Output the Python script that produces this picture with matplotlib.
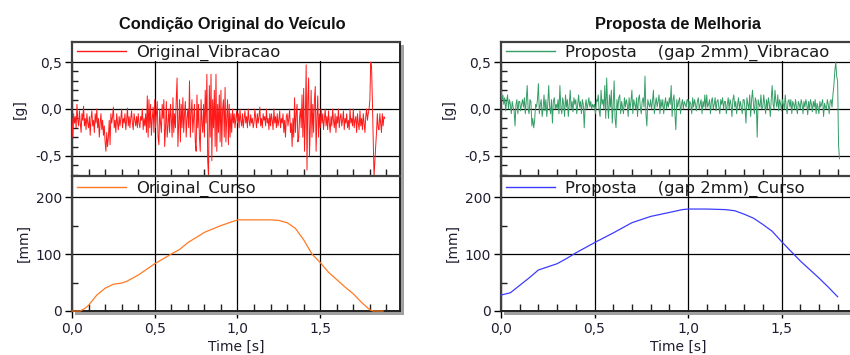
import numpy as np
import matplotlib
matplotlib.use("Agg")
import matplotlib.pyplot as plt
from matplotlib.ticker import MultipleLocator, FuncFormatter, FixedLocator
from matplotlib.patches import Rectangle
from matplotlib.transforms import blended_transform_factory

# ---------------- data ----------------
dt = 0.005
orig_vib = [
    -0.10, -0.30, -0.05, -0.15, -0.08, -0.20, 0.05, -0.12, -0.18, -0.02, -0.15, -0.25, -0.05, -0.12, 0.03, -0.18, -0.10, -0.22, -0.05, -0.15,
    -0.20, -0.08, -0.28, -0.10, -0.02, -0.18, -0.12, -0.25, -0.05, -0.15, 0.00, -0.20, -0.10, -0.30, -0.15, -0.05, -0.22, -0.12, -0.28, -0.18,
    -0.35, -0.45, -0.25, -0.40, -0.30, -0.12, -0.38, -0.05, -0.15, -0.08, 0.02, -0.20, -0.12, -0.25, -0.05, -0.15, -0.22, -0.08, -0.18, -0.10,
    0.00, -0.20, -0.10, -0.15, -0.05, -0.22, -0.12, 0.01, -0.18, -0.08, -0.20, -0.10, -0.02, -0.15, -0.22, -0.05, -0.12, -0.18, -0.08, -0.20,
    -0.05, -0.15, -0.20, -0.08, -0.12, 0.00, -0.22, -0.10, -0.18, -0.05, -0.25, 0.14, -0.30, 0.10, -0.20, 0.05, -0.28, -0.10, 0.02, -0.25,
    0.10, -0.20, -0.05, 0.08, -0.30, -0.38, 0.00, -0.15, -0.25, 0.05, -0.10, 0.10, -0.40, -0.20, 0.08, -0.30, -0.18, 0.00, -0.25, 0.05,
    -0.10, -0.30, 0.12, -0.25, -0.05, -0.20, 0.10, 0.33, -0.40, -0.15, 0.10, -0.35, 0.05, -0.20, 0.12, -0.25, -0.05, 0.08, -0.30, -0.10,
    0.00, -0.20, 0.30, -0.30, -0.05, 0.10, -0.25, -0.10, 0.05, -0.35, -0.45, 0.15, -0.20, 0.05, -0.30, -0.45, 0.10, -0.15, -0.25, 0.05,
    -0.30, 0.20, -0.15, 0.37, -0.55, -0.72, 0.25, -0.30, 0.37, -0.55, 0.10, -0.20, 0.20, -0.40, 0.37, -0.45, 0.05, -0.25, 0.15, -0.35,
    0.20, -0.40, 0.00, 0.10, -0.30, 0.23, -0.35, -0.10, 0.10, -0.38, 0.05, -0.30, -0.05, -0.25, 0.00, -0.15, -0.05, -0.20, -0.10, -0.02,
    -0.15, -0.05, -0.20, 0.00, -0.12, -0.18, -0.05, -0.20, -0.10, -0.02, -0.15, -0.08, -0.20, 0.00, -0.12, -0.18, -0.06, -0.15, -0.10, -0.20,
    -0.14, 0.00, -0.10, -0.20, -0.05, -0.15, -0.08, 0.02, -0.18, -0.10, -0.20, -0.05, -0.12, -0.08, -0.18, 0.00, -0.15, -0.10, -0.22, -0.05,
    -0.18, -0.05, -0.12, -0.22, 0.00, -0.15, -0.08, -0.20, -0.05, -0.18, -0.12, -0.02, -0.20, -0.10, -0.15, -0.05, -0.25, -0.12, -0.30, -0.08,
    -0.05, -0.18, -0.10, 0.00, -0.25, -0.15, -0.40, -0.10, -0.30, 0.12, -0.25, -0.05, 0.05, -0.35, -0.30, -0.10, 0.00, -0.20, 0.15, -0.30,
    0.22, -0.45, -0.10, 0.47, -0.65, 0.10, 0.33, -0.50, -0.20, 0.20, -0.30, 0.05, -0.25, 0.10, 0.24, -0.45, -0.10, 0.14, -0.30, -0.05,
    -0.20, 0.00, -0.15, -0.05, -0.22, -0.10, 0.00, -0.18, -0.08, -0.22, -0.02, -0.15, -0.25, -0.08, -0.18, 0.00, -0.12, -0.20, -0.05, -0.25,
    -0.08, -0.15, 0.00, -0.20, -0.10, -0.05, -0.18, -0.12, -0.02, -0.22, -0.10, -0.15, -0.05, -0.20, -0.12, -0.22, 0.00, -0.15, -0.10, -0.18,
    0.00, -0.20, -0.12, -0.08, -0.25, -0.05, -0.15, -0.22, -0.02, -0.18, -0.10, -0.22, -0.05, -0.15, -0.25, -0.08, 0.00, -0.12, -0.05, 0.00,
    0.10, 0.50, 0.45, 0.10, -0.30, -0.72, -0.55, -0.40, -0.25, -0.05, -0.20, -0.22, -0.05, -0.15, -0.25, -0.05, -0.18, -0.08, -0.10,
]
prop_vib = [
    0.20, 0.10, 0.15, 0.05, 0.12, -0.02, 0.08, 0.15, 0.00, 0.10, 0.05, -0.05, 0.08, 0.02, -0.02, -0.18, 0.05, 0.10, -0.05, 0.08,
    0.08, -0.02, 0.05, 0.10, 0.02, 0.12, -0.05, 0.08, 0.25, 0.00, -0.05, 0.10, 0.08, -0.18, -0.10, -0.20, -0.12, 0.05, 0.02, 0.10,
    0.27, -0.05, 0.05, 0.10, -0.08, 0.00, 0.15, -0.02, 0.10, -0.08, 0.05, 0.25, 0.02, -0.05, 0.10, -0.15, 0.08, 0.12, 0.00, 0.05,
    0.00, 0.10, -0.05, 0.25, 0.02, -0.05, 0.12, 0.05, -0.08, 0.15, 0.02, 0.10, -0.08, 0.05, 0.20, 0.00, 0.08, -0.03, 0.12, 0.05,
    0.10, -0.05, 0.05, 0.15, 0.02, 0.08, -0.05, 0.10, 0.05, -0.20, 0.02, 0.10, 0.00, 0.05, 0.12, 0.02, 0.08, 0.00, 0.05, 0.02,
    0.05, -0.05, 0.10, 0.08, 0.15, -0.02, -0.08, 0.20, 0.05, 0.10, 0.00, 0.25, -0.10, 0.33, 0.05, -0.10, 0.15, 0.02, 0.20, -0.15,
    0.05, 0.30, -0.10, -0.20, 0.10, 0.00, 0.12, 0.15, -0.05, 0.08, 0.02, -0.05, 0.12, 0.02, 0.10, 0.05, -0.08, 0.12, 0.00, 0.08,
    0.20, -0.05, 0.10, 0.05, 0.00, 0.12, -0.08, 0.10, 0.15, 0.02, -0.05, 0.08, 0.12, 0.02, 0.35, -0.05, -0.18, 0.10, 0.05, 0.02,
    0.10, 0.00, 0.08, 0.20, -0.05, 0.05, 0.12, 0.02, 0.08, 0.15, -0.05, 0.10, 0.02, 0.10, -0.05, 0.05, 0.12, 0.00, 0.08, 0.02,
    0.12, 0.05, 0.25, -0.08, 0.10, 0.15, -0.05, -0.22, 0.10, 0.02, 0.08, 0.12, -0.05, 0.05, 0.10, 0.00, 0.08, 0.05, 0.02, 0.10,
    0.10, 0.00, 0.08, 0.05, -0.05, 0.12, 0.02, 0.10, 0.05, -0.02, 0.08, 0.12, 0.00, 0.05, 0.10, -0.05, 0.08, 0.02, 0.15, 0.00,
    0.15, 0.02, 0.05, 0.10, -0.05, 0.08, 0.12, 0.00, 0.05, 0.12, -0.02, 0.08, 0.10, 0.02, -0.05, 0.10, 0.05, 0.12, 0.00, 0.08,
    0.08, -0.05, 0.05, 0.12, 0.00, 0.10, 0.05, -0.08, 0.10, 0.15, 0.02, 0.08, -0.05, 0.05, 0.12, 0.00, 0.08, 0.02, -0.05, 0.10,
    0.10, 0.00, -0.15, 0.12, 0.05, 0.00, 0.15, -0.08, 0.10, 0.20, 0.05, -0.05, 0.12, 0.08, -0.30, 0.10, 0.05, 0.02, 0.15, 0.00,
    0.02, 0.15, 0.05, -0.05, 0.10, 0.00, 0.12, 0.05, -0.08, 0.10, 0.25, 0.05, 0.00, 0.20, 0.08, 0.02, 0.15, -0.02, 0.10, 0.05,
    -0.02, 0.10, 0.05, 0.00, 0.15, 0.02, -0.05, 0.08, 0.10, 0.02, 0.10, -0.05, 0.08, 0.05, 0.00, 0.10, 0.02, -0.05, 0.08, 0.05,
    0.00, 0.10, 0.05, -0.05, 0.08, 0.02, 0.10, 0.05, -0.06, 0.08, 0.00, 0.10, 0.05, -0.03, 0.08, 0.02, 0.10, -0.05, 0.06, 0.02,
    -0.05, 0.08, 0.02, 0.06, 0.10, -0.08, 0.06, 0.02, 0.00, 0.10, 0.05, -0.05, 0.08, 0.10, 0.02, 0.15, 0.25, 0.40, 0.50, 0.35,
    0.30, -0.38, -0.53,
]
orig_curso_t = [0.00, 0.05, 0.08, 0.10, 0.15, 0.20, 0.25, 0.30, 0.33, 0.40, 0.50,
                0.60, 0.65, 0.70, 0.80, 0.90, 1.00, 1.10, 1.20, 1.25, 1.30, 1.35,
                1.40, 1.45, 1.50, 1.55, 1.60, 1.65, 1.70, 1.75, 1.80, 1.82, 1.88]
orig_curso = [0, 0, 5, 10, 28, 40, 47, 49, 52, 63, 83,
              100, 108, 120, 138, 150, 160, 160, 160, 159, 155, 145,
              125, 100, 85, 68, 55, 42, 30, 15, 2, 0, 0]
prop_curso_t = [0.00, 0.05, 0.10, 0.15, 0.20, 0.30, 0.35, 0.40, 0.50, 0.60, 0.70,
                0.80, 0.90, 0.97, 1.00, 1.10, 1.20, 1.25, 1.30, 1.35, 1.40, 1.45,
                1.50, 1.55, 1.60, 1.70, 1.75, 1.80]
prop_curso = [28, 32, 45, 58, 72, 83, 92, 102, 120, 137, 155,
              166, 173, 178, 179, 179, 178, 176, 170, 163, 152, 140,
              122, 105, 88, 58, 42, 25]

titles = ["Condição Original do Veículo", "Proposta de Melhoria"]
labels_vib = ["Original_Vibracao", "Proposta    (gap 2mm)_Vibracao"]
labels_curso = ["Original_Curso", "Proposta    (gap 2mm)_Curso"]
vib_colors = ["#ff1a1a", "#359e66"]
curso_colors = ["#ff7a22", "#3c3cff"]

# ---------------- figure ----------------
W, H = 850, 355
fig = plt.figure(figsize=(W / 100, H / 100), dpi=100)
fig.patch.set_facecolor("white")

def fx(px):
    return px / W

def fy(py):
    return 1 - py / H

comma = FuncFormatter(lambda v, p: f"{v:.1f}".replace(".", ","))
intfmt = FuncFormatter(lambda v, p: f"{v:.0f}")
TICKC = "#1e1e30"

panels = [
    dict(x0=72, w=328, xmax=1.982),
    dict(x0=501, w=354, xmax=1.893),
]

vib_data = [np.array(orig_vib), np.array(prop_vib)]
curso_data = [(np.array(orig_curso_t), np.array(orig_curso)),
              (np.array(prop_curso_t), np.array(prop_curso))]

def frame(ax, xmax):
    ax.set_xlim(0, xmax)
    ax.set_axisbelow(True)
    ax.grid(True, which="major", color="black", linewidth=0.9)
    ax.xaxis.set_major_locator(FixedLocator([0, 0.5, 1.0, 1.5]))
    ax.xaxis.set_minor_locator(MultipleLocator(0.1))
    for s in ["left", "top"]:
        ax.spines[s].set_color("#404040")
        ax.spines[s].set_linewidth(1.6)
    for s in ["right", "bottom"]:
        ax.spines[s].set_color("#202020")
        ax.spines[s].set_linewidth(1.4)

def ticks(ax):
    ax.yaxis.set_tick_params(which="major", direction="out", length=5, width=1,
                             labelsize=10, labelcolor=TICKC, pad=2)
    ax.yaxis.set_tick_params(which="minor", direction="in", length=4, width=1,
                             color="#202020")
    ax.xaxis.set_tick_params(which="minor", direction="in", length=5, width=1,
                             color="#202020")
    ax.xaxis.set_tick_params(which="major", direction="out", length=5, width=1,
                             labelsize=10, labelcolor=TICKC, pad=3)

def legend(ax, y, color):
    leg = ax.legend(loc="center left", bbox_to_anchor=(0.015, y),
                    frameon=False, fontsize=11.8, handlelength=3.0,
                    handletextpad=0.6, borderpad=0, borderaxespad=0)
    for txt in leg.get_texts():
        txt.set_color("#1a1a1a")
    for ln in leg.get_lines():
        ln.set_color(color)
        ln.set_linewidth(1.0)
    leg.set_zorder(10)

for i, p in enumerate(panels):
    axu = fig.add_axes([fx(p["x0"]), fy(176), fx(p["w"]), 134 / H])
    axl = fig.add_axes([fx(p["x0"]), fy(311), fx(p["w"]), 135 / H])

    # upper: vibration
    v = vib_data[i]
    t = np.arange(len(v)) * dt
    frame(axu, p["xmax"])
    axu.set_ylim(-0.713, 0.713)
    axu.yaxis.set_major_locator(FixedLocator([-0.5, 0.0, 0.5]))
    axu.yaxis.set_minor_locator(MultipleLocator(0.1))
    axu.yaxis.set_major_formatter(comma)
    ticks(axu)
    axu.xaxis.set_tick_params(which="major", length=0, labelbottom=False)
    axu.plot(t, v, color=vib_colors[i], linewidth=0.7, zorder=3,
             label=labels_vib[i])
    band = Rectangle((0, 0.506), 1, 0.3,
                     transform=blended_transform_factory(axu.transAxes, axu.transData),
                     facecolor="white", edgecolor="none", zorder=1.5)
    axu.add_patch(band)
    axu.set_ylabel("[g]", fontsize=10, color=TICKC, labelpad=6)
    legend(axu, 0.92, vib_colors[i])

    # lower: curso
    ct, cv = curso_data[i]
    frame(axl, p["xmax"])
    axl.set_ylim(0, 237)
    axl.yaxis.set_major_locator(FixedLocator([0, 100, 200]))
    axl.yaxis.set_minor_locator(FixedLocator([50, 150]))
    axl.yaxis.set_major_formatter(intfmt)
    axl.xaxis.set_major_formatter(comma)
    ticks(axl)
    axl.plot(ct, cv, color=curso_colors[i], linewidth=0.9, zorder=3,
             label=labels_curso[i], clip_on=False)
    axl.set_ylabel("[mm]", fontsize=10, color=TICKC, labelpad=4)
    axl.set_xlabel("Time [s]", fontsize=10, color=TICKC, labelpad=3)
    legend(axl, 0.904, curso_colors[i])

    # title
    cx = 232 if i == 0 else 678
    fig.text(fx(cx), fy(25), titles[i], ha="center", va="center", fontsize=11.8,
             fontweight="bold", family="Liberation Sans", color="#111111")

# shadows
shadow = "#a0a0a0"
fig.add_artist(Rectangle((fx(401), fy(314)), fx(3), (314 - 45) / H,
                         transform=fig.transFigure, facecolor=shadow,
                         edgecolor="none"))
fig.add_artist(Rectangle((fx(75), fy(315)), fx(329), 3 / H,
                         transform=fig.transFigure, facecolor=shadow,
                         edgecolor="none"))
fig.add_artist(Rectangle((fx(504), fy(315)), fx(350), 3 / H,
                         transform=fig.transFigure, facecolor=shadow,
                         edgecolor="none"))

fig.savefig("out.png", dpi=100)
